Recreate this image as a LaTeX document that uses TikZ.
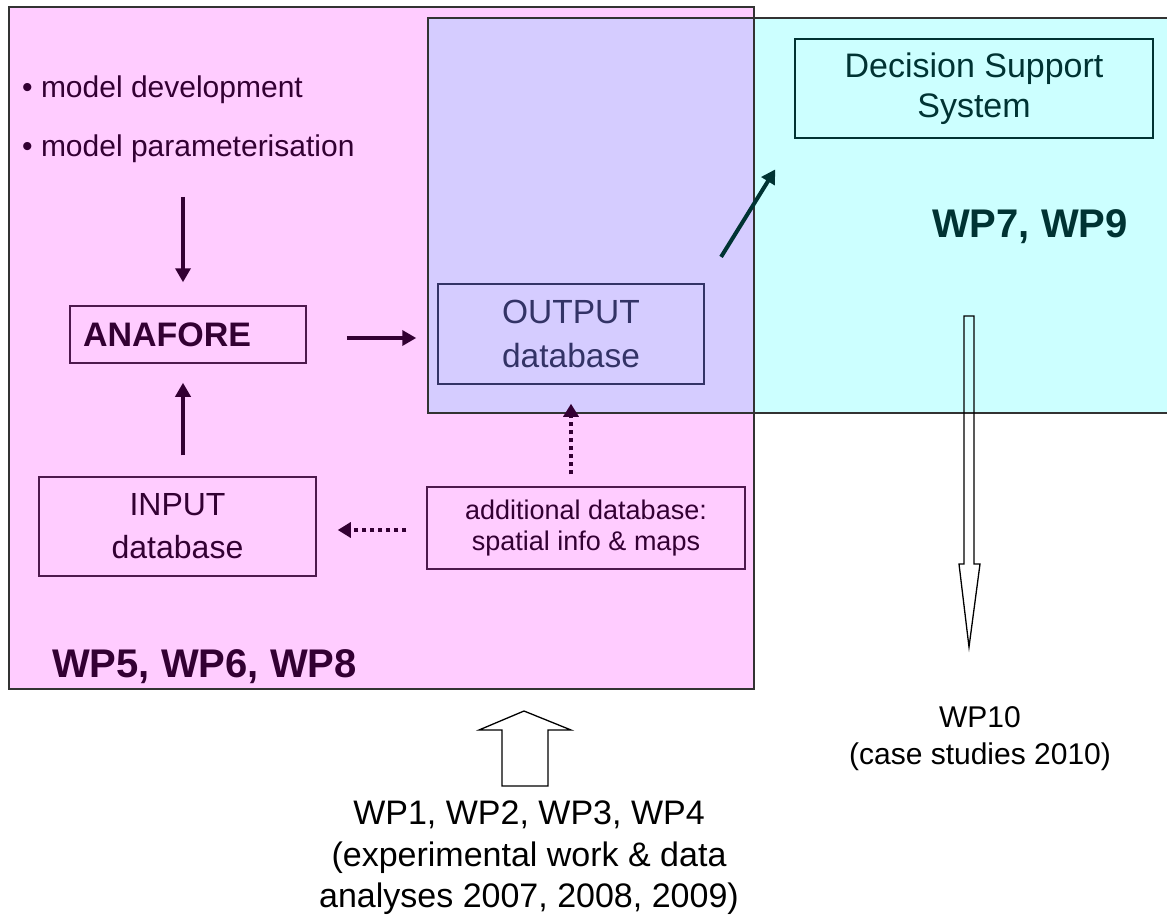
\documentclass[tikz,border=0pt]{standalone}
\usepackage{fontspec}
\setmainfont{Liberation Sans}
\usetikzlibrary{arrows.meta}
\definecolor{pinkbg}{HTML}{FFCCFF}
\definecolor{cyanbg}{HTML}{CCFFFF}
\definecolor{lavbg}{HTML}{D5CCFF}
\definecolor{pdark}{HTML}{330033}
\definecolor{pline}{HTML}{4D194D}
\definecolor{odark}{HTML}{333366}
\definecolor{tdark}{HTML}{003333}
\definecolor{framec}{HTML}{333333}
\tikzset{
  box/.style={rectangle, line width=1.5pt, inner sep=0pt},
  parr/.style={draw=pdark, line width=4pt, -{Triangle[length=14pt,width=15pt]}},
  tarr/.style={draw=tdark, line width=4pt, -{Triangle[length=14pt,width=15pt]}},
  pdot/.style={draw=pdark, line width=4pt, dash pattern=on 4pt off 4pt, -{Triangle[length=13pt,width=15pt]}},
  plain/.style={inner sep=0pt},
  hollow/.style={draw=black, line width=1.3pt, line join=miter}
}
\begin{document}
\begin{tikzpicture}[x=1pt,y=-1pt]
\clip (0,0) rectangle (1167,920);
\fill[white] (0,0) rectangle (1167,920);
% regions
\fill[pinkbg] (9,7) rectangle (754,689);
\fill[cyanbg] (428,18) rectangle (1175,413);
\fill[lavbg] (428,18) rectangle (754,413);
\draw[framec, line width=1.5pt] (9,7) rectangle (754,689);
\draw[framec, line width=1.5pt] (428,18) rectangle (1175,413);

% bullet texts
\node[plain, anchor=base west, text=pdark, font=\fontsize{30}{36}\selectfont] (b1) at (22,98) {\textbullet\ model development};
\node[plain, anchor=base west, text=pdark, font=\fontsize{30}{36}\selectfont] (b2) at (22,157) {\textbullet\ model parameterisation};

% boxes
\node[box, draw=pline, text=pdark, inner xsep=13pt, text width=210pt, minimum height=57pt, align=left, font=\bfseries\fontsize{34}{40}\selectfont] (ana) at (188,334.5) {ANAFORE};
\node[box, draw=odark, text=odark, minimum width=266pt, minimum height=100pt, align=center, font=\fontsize{33.5}{44}\selectfont] (out) at (571,334) {OUTPUT\\database};
\node[box, draw=pline, text=pdark, minimum width=277pt, minimum height=99pt, align=center, font=\fontsize{32}{43}\selectfont] (inp) at (177.5,526.5) {INPUT\\database};
\node[box, draw=pline, text=pdark, minimum width=318pt, minimum height=82pt, align=center, font=\fontsize{27}{31}\selectfont] (add) at (586,528) {additional database:\\spatial info \& maps};
\node[box, draw=tdark, text=tdark, minimum width=358pt, minimum height=99pt, align=center, font=\fontsize{34}{40}\selectfont] (dss) at (974,88.5) {Decision Support\\System};

% WP labels
\node[plain, anchor=base west, text=pdark, font=\bfseries\fontsize{40}{48}\selectfont] (wp5) at (52,677) {WP5, WP6, WP8};
\node[plain, anchor=base west, text=tdark, font=\bfseries\fontsize{40}{48}\selectfont] (wp7) at (932,237) {WP7, WP9};
\node[plain, align=center, text=black, font=\fontsize{30}{37}\selectfont] (wp10) at (980,739) {WP10\\(case studies 2010)};
\node[plain, align=center, text=black, font=\fontsize{34}{41.5}\selectfont] (wp14) at (529,858) {WP1, WP2, WP3, WP4\\(experimental work \& data\\analyses 2007, 2008, 2009)};

% arrows
\coordinate (dtop) at (183,197);
\draw[parr, shorten >=23pt] (dtop) -- (dtop |- ana.north);
\draw[parr, shorten <=21pt, shorten >=19pt] (inp.north -| dtop) -- (ana.south -| dtop);
\draw[parr, shorten <=40pt, shorten >=21pt] ([yshift=-3.5pt]ana.east) -- ([yshift=-3.5pt]ana.east -| out.west);
\draw[tarr, shorten <=31pt, shorten >=36pt] (out.north east) -- (dss.south west);
\draw[pdot, shorten <=12pt, shorten >=19pt] (add.north -| out.south) -- (out.south);
\draw[pdot, shorten <=20pt, shorten >=21pt] ([yshift=-2pt]add.west) -- ([yshift=-2pt]add.west -| inp.east);

% hollow block arrows
\draw[hollow] (964,316) -- (964,564) -- (959,564) -- (969,647) -- (980,564) -- (974,564) -- (974,316) -- cycle;
\draw[hollow] (502,786) -- (502,730) -- (479,730) -- (524,711) -- (571,730) -- (548,730) -- (548,786) -- cycle;
\end{tikzpicture}
\end{document}
